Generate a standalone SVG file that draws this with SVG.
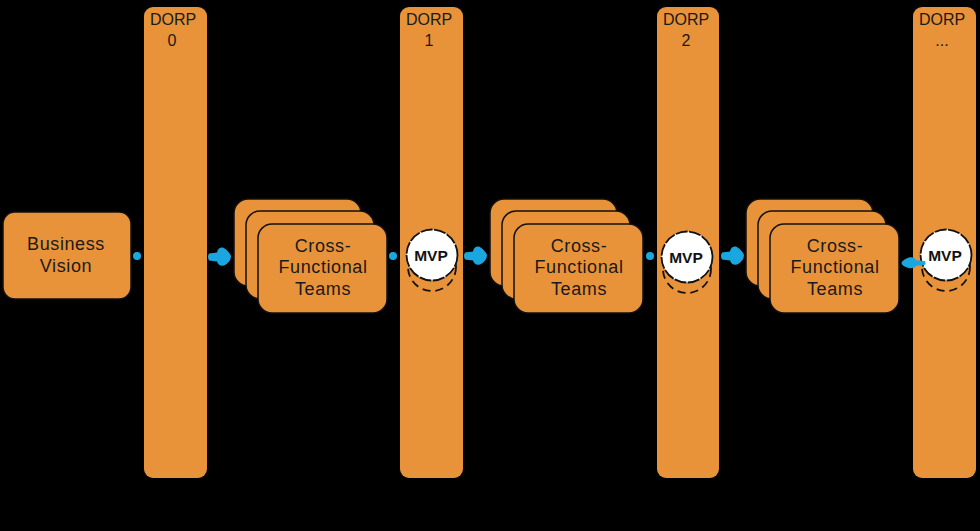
<svg xmlns="http://www.w3.org/2000/svg" width="980" height="531" viewBox="0 0 980 531">
  <style>
    .bar { fill: #E8923A; }
    .box { fill: #E8923A; stroke: #111; stroke-width: 1.5; }
    .txt { font-family: "Liberation Sans", Arial, sans-serif; font-size: 18px; letter-spacing: 0.6px; fill: #1a1a1a; text-anchor: middle; }
    .lbl { font-family: "Liberation Sans", Arial, sans-serif; font-size: 16px; fill: #1a1a1a; text-anchor: middle; }
    .mvp { font-family: "Liberation Sans", Arial, sans-serif; font-size: 15.5px; font-weight: bold; fill: #111; text-anchor: middle; }
    .mvpc { fill: #fff; stroke: #111; stroke-width: 1.8; stroke-dasharray: 12 1.5; }
    .dash { fill: none; stroke: #111; stroke-width: 1.8; stroke-dasharray: 8 5; }
    .dot { fill: #1AA7E0; }
  </style>
  <defs>
    <path id="arr" class="dot" d="M-11,-3.5 L-3,-4.5 Q-2,-10 3,-9.5 Q9,-6 11,-1 Q11,5 4,8.5 Q-1,10 -3,4.5 L-11,3.5 Q-13,0 -11,-3.5 Z"/>
    <g id="mvpg">
      <circle class="dash" cx="0" cy="12" r="24"/>
      <circle class="mvpc" cx="0" cy="0" r="25.5"/>
      <text class="mvp" x="-1" y="5.5">MVP</text>
    </g>
    <g id="stack">
      <rect class="box" x="0" y="0" width="127" height="87" rx="14"/>
      <rect class="box" x="12" y="12" width="128" height="88" rx="14"/>
      <rect class="box" x="24" y="25" width="129" height="89" rx="14"/>
      <text class="txt" x="89" y="53">Cross-</text>
      <text class="txt" x="89" y="74">Functional</text>
      <text class="txt" x="89" y="96">Teams</text>
    </g>
  </defs>
  <rect x="0" y="0" width="980" height="531" fill="#000"/>

  <g id="bar0"><rect class="bar" x="144" y="7" width="63" height="471" rx="9"/>
    <text class="lbl" x="173" y="25">DORP</text><text class="lbl" x="172" y="46">0</text></g>
  <g id="bar1"><rect class="bar" x="400" y="7" width="63" height="471" rx="9"/>
    <text class="lbl" x="429" y="25">DORP</text><text class="lbl" x="429" y="46">1</text></g>
  <g id="bar2"><rect class="bar" x="657" y="7" width="62" height="471" rx="9"/>
    <text class="lbl" x="686" y="25">DORP</text><text class="lbl" x="686" y="46">2</text></g>
  <g id="bar3"><rect class="bar" x="913" y="7" width="63" height="471" rx="9"/>
    <text class="lbl" x="942" y="25">DORP</text><text class="lbl" x="942" y="46">...</text></g>

  <g id="vision">
    <rect class="box" x="3" y="212" width="128" height="87" rx="12"/>
    <text class="txt" x="66" y="250">Business</text>
    <text class="txt" x="66" y="272">Vision</text>
  </g>

  <g id="teams1"><use href="#stack" transform="translate(234,199)"/></g>
  <g id="teams2"><use href="#stack" transform="translate(490,199)"/></g>
  <g id="teams3"><use href="#stack" transform="translate(746,199)"/></g>

  <g id="mvp1"><use href="#mvpg" transform="translate(432,255)"/></g>
  <g id="mvp2"><use href="#mvpg" transform="translate(687,257)"/></g>
  <g id="mvp3"><use href="#mvpg" transform="translate(946,255)"/></g>

  <g id="connectors">
    <circle class="dot" cx="137" cy="256" r="4"/>
    <use href="#arr" transform="translate(220,257)"/>
    <circle class="dot" cx="393" cy="256" r="4"/>
    <use href="#arr" transform="translate(476,256)"/>
    <circle class="dot" cx="650" cy="256" r="4"/>
    <use href="#arr" transform="translate(733,256)"/>
    <use href="#arr" transform="translate(913,263) scale(-1.05,0.6)"/>
  </g>
</svg>
